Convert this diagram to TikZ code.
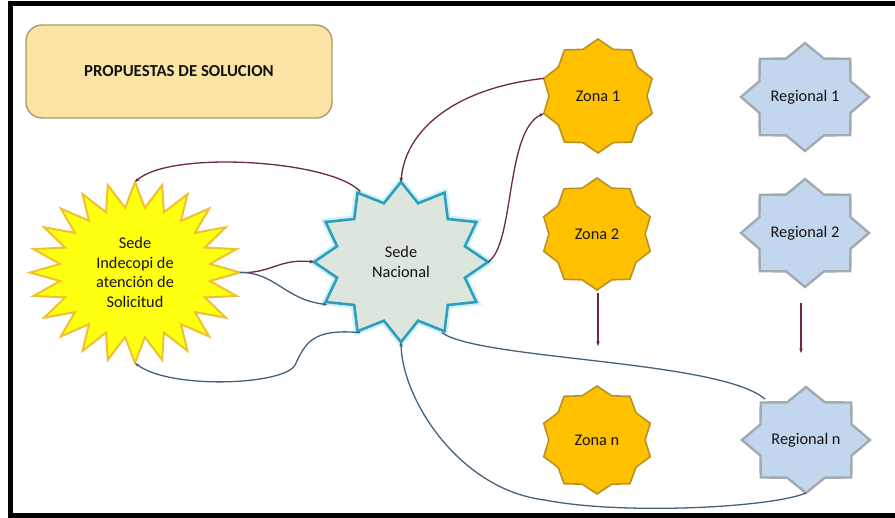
\documentclass[tikz,border=0pt]{standalone}
\usepackage{fontspec}
\setmainfont{Carlito}
\usetikzlibrary{arrows.meta,calc,shapes.geometric}

\definecolor{titlefill}{HTML}{FCE4A4}
\definecolor{titleline}{HTML}{A59D6E}
\definecolor{sunfill}{HTML}{FFFF10}
\definecolor{sunline}{HTML}{EFC030}
\definecolor{hubfill}{HTML}{DCE6DC}
\definecolor{hubline}{HTML}{2E9EBE}
\definecolor{hubglow}{HTML}{D2F0F8}
\definecolor{zonefill}{HTML}{FFC000}
\definecolor{zoneline}{HTML}{B99322}
\definecolor{regfill}{HTML}{C2D6EE}
\definecolor{regline}{HTML}{A3A9B0}
\definecolor{linkred}{HTML}{6E2A36}
\definecolor{linkblue}{HTML}{44617C}
\definecolor{ink}{HTML}{141414}

% star outline drawn around a centre, then an invisible elliptic node carrying the text
% #1 name, #2 centre, #3 x radius, #4 y radius, #5 points, #6 inner ratio, #7 style, #8 text
\newcommand\starnode[8]{%
  \path[#7, shift={(#2)}]
    plot[domain=0:2*#5-1, samples=2*#5, variable=\t]
      ({#3*(1-(1-#6)*mod(round(\t),2))*cos(90+180/#5*\t)},
       {#4*(1-(1-#6)*mod(round(\t),2))*sin(90+180/#5*\t)}) -- cycle;
  \node[label text, minimum width=2*#3, minimum height=2*#4] (#1) at (#2) {#8};
}

\tikzset{
  label text/.style={ellipse, inner sep=0pt, outer sep=0pt, align=center,
    text=ink, font=\fontsize{16.3}{19.5}\selectfont},
  sunstyle/.style={fill=sunfill, draw=sunline, line width=2pt, line join=miter},
  hubstyle/.style={fill=hubfill, draw=hubline, line width=2.6pt,
    preaction={draw=hubglow, line width=7pt}},
  zonestyle/.style={fill=zonefill, draw=zoneline, line width=1.6pt},
  regstyle/.style={fill=regfill, draw=regline, line width=2.4pt},
  redlink/.style={draw=linkred, line width=1.3pt},
  bluelink/.style={draw=linkblue, line width=1.3pt},
  tipend/.style={-{Stealth[length=4.5pt,width=3.5pt]}},
  tipstart/.style={{Stealth[length=4.5pt,width=3.5pt]}-},
}

\begin{document}
\begin{tikzpicture}[x=1pt, y=-1pt]
\useasboundingbox (0,0) rectangle (895,518);

% frame
\fill[black] (8,1) rectangle (13,518);
\fill[black] (8,1) rectangle (895,6);
\fill[black] (8,513) rectangle (895,518);

% title box
\node[draw=titleline, fill=titlefill, rounded corners=16pt, line width=1.4pt,
      minimum width=306pt, minimum height=93pt, text=ink,
      font=\bfseries\fontsize{16.8}{19}\selectfont] (title) at (179,71.5)
      {PROPUESTAS DE SOLUCION};

% stars
\starnode{yel}{135,272.5}{105}{90.5}{24}{0.72}{sunstyle}
  {Sede\\Indecopi de\\atención de\\Solicitud}
\starnode{sn}{401,262}{87}{80}{12}{0.76}{hubstyle}{Sede\\Nacional}
\starnode{z1}{598,96}{57}{57}{10}{0.86}{zonestyle}{Zona 1}
\starnode{z2}{597,234}{56}{56}{10}{0.86}{zonestyle}{Zona 2}
\starnode{zn}{597,440}{56}{54}{10}{0.86}{zonestyle}{Zona n}
\starnode{r1}{805,97}{64}{54}{8}{0.77}{regstyle}{Regional 1}
\starnode{r2}{805,233}{64}{54}{8}{0.77}{regstyle}{Regional 2}
\starnode{rn}{806,440}{64}{53}{8}{0.77}{regstyle}{Regional n}

% connectors from the national office
\draw[redlink, tipstart] (sn.90) .. controls (405,130) and (455,88) .. (z1.162);
\draw[redlink, tipend] (sn.0) .. controls (515,245) and (505,130) .. (z1.198);
\draw[redlink, tipend] (sn.120) .. controls (330,160) and (170,150) .. (yel.90);
\draw[redlink, tipend] (yel.0) .. controls (270,274) and (280,258) .. (sn.180);
\draw[bluelink, tipend] (yel.0) .. controls (275,272) and (285,300) .. (sn.210);
\draw[bluelink, tipend] (sn.240) .. controls (310,328) and (305,345) .. (295,365)
   .. controls (285,385) and (170,390) .. (yel.270);
\draw[bluelink, tipend] (rn.270) .. controls (770,508) and (620,515) .. (545,500)
   .. controls (460,490) and (402,400) .. (sn.270);
\draw[bluelink] (sn.300) .. controls (480,360) and (720,360) .. (rn.135);

% downward links
\draw[redlink, tipend] ($(z2.south)+(1,3)$) -- ($(zn.north)+(1,-40)$);
\draw[redlink, tipend] ($(r2.south)+(-4,16)$) -- ($(rn.north)+(-5,-34)$);
\end{tikzpicture}
\end{document}
